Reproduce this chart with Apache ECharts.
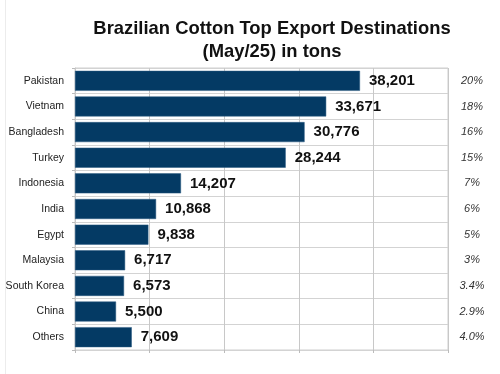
<!DOCTYPE html>
<html><head><meta charset="utf-8">
<script src="https://cdn.jsdelivr.net/npm/echarts@6/dist/echarts.min.js"></script>
<style>html,body{margin:0;padding:0;background:#fff}#c{width:500px;height:374px}</style>
</head><body><div id="c"></div>
<script>
const categories = ["Pakistan","Vietnam","Bangladesh","Turkey","Indonesia","India","Egypt","Malaysia","South Korea","China","Others"];
const tons = [38201,33671,30776,28244,14207,10868,9838,6717,6573,5500,7609];
const shares = ["20%","18%","16%","15%","7%","6%","5%","3%","3.4%","2.9%","4.0%"];
const valueTicks = [0,10000,20000,30000,40000,50000];

const chart = echarts.init(document.getElementById('c'), null, {renderer:'canvas'});
chart.setOption({
  animation:false,
  backgroundColor:'#fff',
  title:{
    text:'Brazilian Cotton Top Export Destinations\n(May/25) in tons',
    left:267, textAlign:'center', top:12,
    textStyle:{fontFamily:'Liberation Sans, Arial', fontWeight:'bold', fontSize:18.4, color:'#111', lineHeight:23}
  },
  graphic:[{type:'line', shape:{x1:5.5,y1:0,x2:5.5,y2:374}, style:{stroke:'#ececec', lineWidth:1}}],
  grid:{left:75, right:52, top:68, bottom:24, outerBoundsMode:'none', containLabel:false,
    show:true, borderColor:'#cfcfcf', borderWidth:1},
  xAxis:{
    type:'value', min:valueTicks[0], max:valueTicks[valueTicks.length-1], interval:10000,
    axisLabel:{show:false},
    axisLine:{show:false},
    axisTick:{show:true, length:3, lineStyle:{color:'#bbb'}},
    splitLine:{show:true, lineStyle:{color:'#c8c8c8', width:1}}
  },
  yAxis:[{
    type:'category', data:categories, inverse:true,
    axisLine:{show:true, lineStyle:{color:'#c8c8c8'}},
    axisTick:{show:true, length:3, lineStyle:{color:'#bbb'}},
    splitLine:{show:true, lineStyle:{color:'#d3d3d3', width:1}},
    axisLabel:{margin:11, color:'#222', fontFamily:'Liberation Sans, Arial', fontSize:10.5}
  },{
    type:'category', data:shares, inverse:true, position:'right',
    axisLine:{show:false}, axisTick:{show:false}, splitLine:{show:false},
    axisLabel:{margin:24, align:'center', color:'#333', fontStyle:'italic', fontFamily:'Liberation Sans, Arial', fontSize:11}
  }],
  series:[{
    type:'bar', data:tons, yAxisIndex:0, barCategoryGap:'22%',
    itemStyle:{color:'#043a64', borderColor:'#2a5a82', borderWidth:0.5},
    label:{show:true, position:'right', distance:9, color:'#111', fontWeight:'bold', fontSize:15,
      fontFamily:'Liberation Sans, Arial',
      formatter:p=>p.value.toLocaleString('en-US')}
  }]
});
</script></body></html>
